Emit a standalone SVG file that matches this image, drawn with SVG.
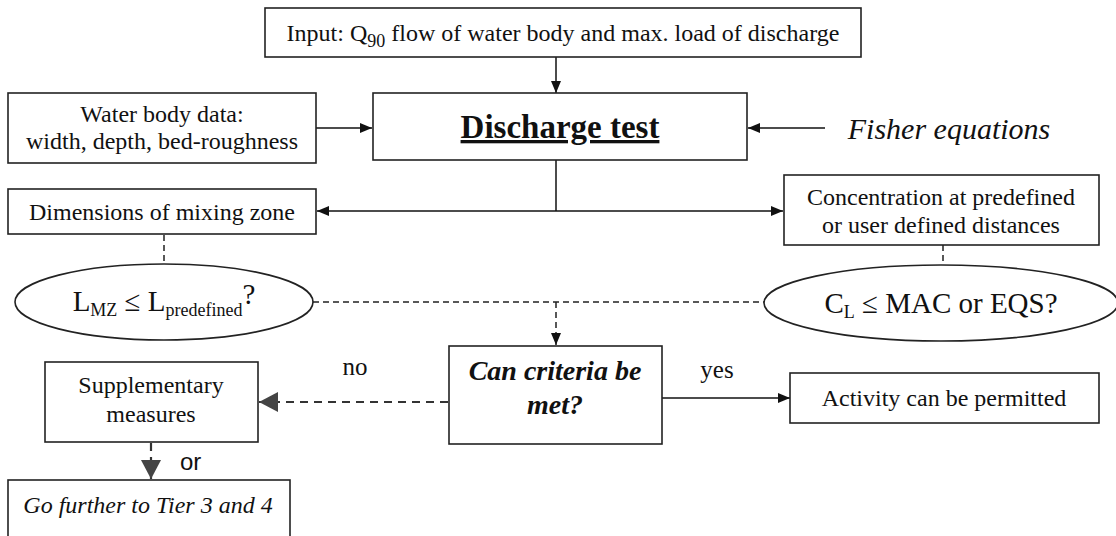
<svg xmlns="http://www.w3.org/2000/svg" width="1116" height="536" viewBox="0 0 1116 536">
<style>
.box{fill:#fff;stroke:#222;stroke-width:1.6}
.t{font-family:"Liberation Serif","Times New Roman",serif;font-size:24px;fill:#111;text-anchor:middle}
.big{font-size:33px;font-weight:bold;text-decoration:underline}
.fish{font-size:30px;font-style:italic}
.q{font-size:28px;font-weight:bold;font-style:italic}
.ell{font-size:29px}
.sub{font-size:18px}
.lbl{font-size:25px}
.ln{stroke:#111;stroke-width:1.5;fill:none}
.dl{stroke:#222;stroke-width:1.5;fill:none;stroke-dasharray:6 4}
.dl2{stroke:#333;stroke-width:2.2;fill:none;stroke-dasharray:8 6}
</style>
<defs>
<marker id="ah" markerUnits="userSpaceOnUse" markerWidth="12" markerHeight="10" refX="12" refY="5" orient="auto">
<path d="M0,0 L12,5 L0,10 Z" fill="#111"/>
</marker>
<marker id="ahs" markerUnits="userSpaceOnUse" markerWidth="12" markerHeight="10" refX="0" refY="5" orient="auto">
<path d="M12,0 L0,5 L12,10 Z" fill="#111"/>
</marker>
<marker id="ag" markerUnits="userSpaceOnUse" markerWidth="19" markerHeight="20" refX="19" refY="10" orient="auto">
<path d="M0,0 L19,10 L0,20 Z" fill="#444"/>
</marker>
</defs>
<rect width="1116" height="536" fill="#fff"/>

<g id="connectors">
<line class="ln" x1="556" y1="57" x2="556" y2="93" marker-end="url(#ah)"/>
<line class="ln" x1="316" y1="128" x2="372" y2="128" marker-end="url(#ah)"/>
<line class="ln" x1="825" y1="128" x2="748" y2="128" marker-end="url(#ah)"/>
<line class="ln" x1="556" y1="160" x2="556" y2="211"/>
<line class="ln" x1="317" y1="211" x2="783" y2="211" marker-start="url(#ahs)" marker-end="url(#ah)"/>
<line class="dl" x1="164" y1="235" x2="164" y2="264"/>
<line class="dl" x1="943" y1="245" x2="943" y2="265"/>
<line class="dl" x1="313" y1="302" x2="764" y2="302"/>
<line class="dl" x1="556" y1="302" x2="556" y2="345" marker-end="url(#ah)"/>
<line class="dl2" x1="448" y1="402" x2="259" y2="402" marker-end="url(#ag)"/>
<line class="ln" x1="662" y1="398" x2="790" y2="398" marker-end="url(#ah)"/>
<line class="dl2" x1="151" y1="443" x2="151" y2="479" marker-end="url(#ag)"/>
</g>

<g id="input">
<rect class="box" x="265" y="8" width="596" height="49"/>
<text class="t" x="563" y="41">Input: Q<tspan class="sub" dy="6">90</tspan><tspan dy="-6"> flow of water body and max. load of discharge</tspan></text>
</g>

<g id="discharge-test">
<rect class="box" x="373" y="93" width="374" height="67"/>
<text class="t big" x="560" y="138">Discharge test</text>
</g>

<g id="water-body">
<rect class="box" x="8" y="93" width="308" height="70"/>
<text class="t" x="162" y="122">Water body data:</text>
<text class="t" x="162" y="149">width, depth, bed-roughness</text>
</g>

<g id="fisher">
<text class="t fish" x="949" y="139">Fisher equations</text>
</g>

<g id="dimensions">
<rect class="box" x="8" y="189" width="308" height="45"/>
<text class="t" x="162" y="220">Dimensions of mixing zone</text>
</g>

<g id="concentration">
<rect class="box" x="784" y="175" width="315" height="70"/>
<text class="t" x="941" y="205">Concentration at predefined</text>
<text class="t" x="941" y="233">or user defined distances</text>
</g>

<g id="lmz">
<ellipse class="box" cx="164" cy="302" rx="149" ry="38"/>
<text class="t ell" x="164" y="311">L<tspan class="sub" dy="5">MZ</tspan><tspan dy="-5"> ≤ L</tspan><tspan class="sub" dy="5">predefined</tspan><tspan dy="-12">?</tspan></text>
</g>

<g id="cl">
<ellipse class="box" cx="941" cy="303" rx="177" ry="38"/>
<text class="t ell" x="941" y="313">C<tspan class="sub" dy="5">L</tspan><tspan dy="-5"> ≤ MAC or EQS?</tspan></text>
</g>

<g id="can-criteria">
<rect class="box" x="449" y="346" width="213" height="98"/>
<text class="t q" x="555" y="380">Can criteria be</text>
<text class="t q" x="555" y="414">met?</text>
</g>

<g id="supplementary">
<rect class="box" x="45" y="362" width="213" height="80"/>
<text class="t" x="151" y="393">Supplementary</text>
<text class="t" x="151" y="422">measures</text>
</g>

<g id="activity">
<rect class="box" x="790" y="373" width="309" height="50"/>
<text class="t" x="944" y="406">Activity can be permitted</text>
</g>

<g id="go-further">
<rect class="box" x="8" y="480" width="282" height="70"/>
<text class="t" x="148" y="513" style="font-style:italic">Go further to Tier 3 and 4</text>
</g>

<g id="labels">
<text class="t lbl" x="355" y="375">no</text>
<text class="t lbl" x="717" y="378">yes</text>
<text x="180" y="470" font-family="Liberation Sans, Arial, sans-serif" font-size="24" fill="#111">or</text>
</g>
</svg>
